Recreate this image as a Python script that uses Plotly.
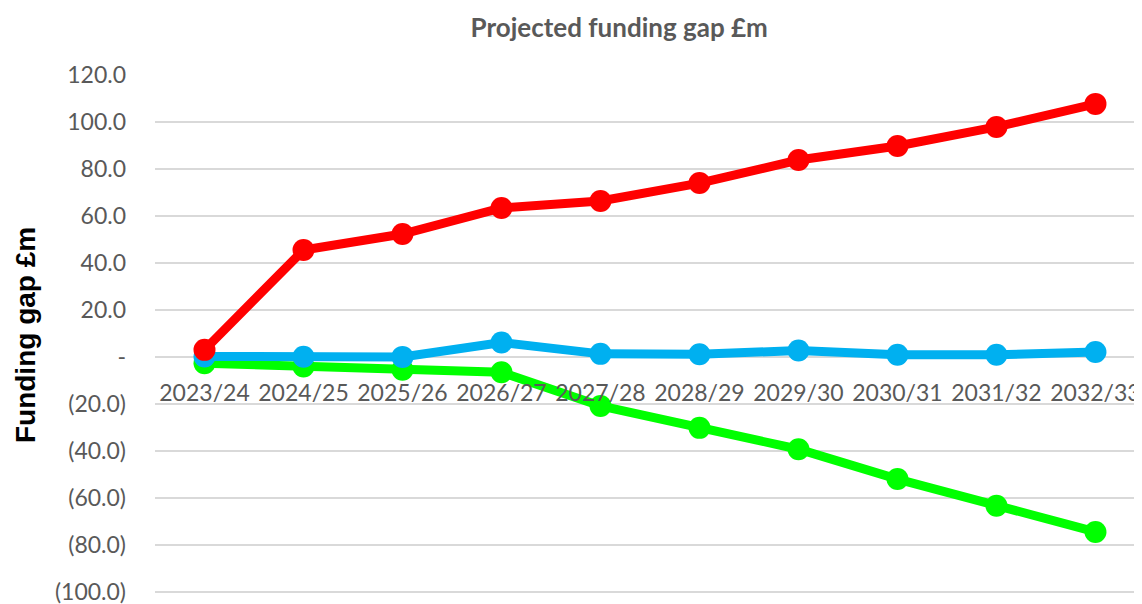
import plotly.graph_objects as go

# categories and series
years = ['2023/24', '2024/25', '2025/26', '2026/27', '2027/28',
         '2028/29', '2029/30', '2030/31', '2031/32', '2032/33']
red_gap = [3.0, 45.5, 52.3, 63.4, 66.4, 74.0, 83.8, 89.8, 97.9, 107.7]
blue_gap = [0.2, 0.1, 0.0, 6.1, 1.3, 1.1, 2.7, 0.9, 0.9, 2.1]
green_gap = [-2.7, -4.1, -5.5, -6.5, -20.9, -30.2, -39.3, -52.0, -63.4, -74.5]

y_ticks = [-100, -80, -60, -40, -20, 0, 20, 40, 60, 80, 100, 120]
y_labels = ['(100.0)', '(80.0)', '(60.0)', '(40.0)', '(20.0)', '-',
            '20.0', '40.0', '60.0', '80.0', '100.0', '120.0']

y_min, y_max = -100.5, 120

fig = go.Figure()
for vals, col in [(green_gap, '#00ff00'), (blue_gap, '#00b0f0'), (red_gap, '#ff0000')]:
    fig.add_trace(go.Scatter(
        x=years, y=vals, mode='lines+markers',
        line=dict(color=col, width=9),
        marker=dict(color=col, size=22),
        showlegend=False
    ))

# page has an 8px body margin; bottom of the figure runs past the window like the original
fig.update_layout(
    width=1134, height=604,
    margin=dict(l=147, r=0, t=67, b=19),
    paper_bgcolor='white', plot_bgcolor='white',
    font=dict(family='Lato', color='#595959'),
    title=dict(text='<b>Projected funding gap £m</b>', x=0.539, xanchor='center',
               y=1 - 20 / 604, yanchor='middle', font=dict(size=26, color='#595959')),
)
fig.add_annotation(
    text='<b>Funding gap £m</b>', textangle=-90,
    xref='paper', yref='paper', x=-0.1317, y=0.498,
    xanchor='center', yanchor='middle', showarrow=False,
    font=dict(family='Liberation Sans', size=28, color='black'),
)
fig.update_xaxes(
    type='category', range=[-0.5, 9.47],
    anchor='free', position=(0 - y_min) / (y_max - y_min),
    showgrid=False, showline=False, ticks='',
    tickfont=dict(size=23, color='#595959'),
    ticklabelstandoff=20,
)
fig.update_yaxes(
    range=[y_min, y_max], tickvals=y_ticks, ticktext=y_labels,
    showgrid=True, gridcolor='#d9d9d9', gridwidth=1.5,
    zeroline=True, zerolinecolor='#d9d9d9', zerolinewidth=1.5,
    tickfont=dict(size=23, color='#595959'), ticklabelstandoff=28,
)

fig.write_html("out.html")
